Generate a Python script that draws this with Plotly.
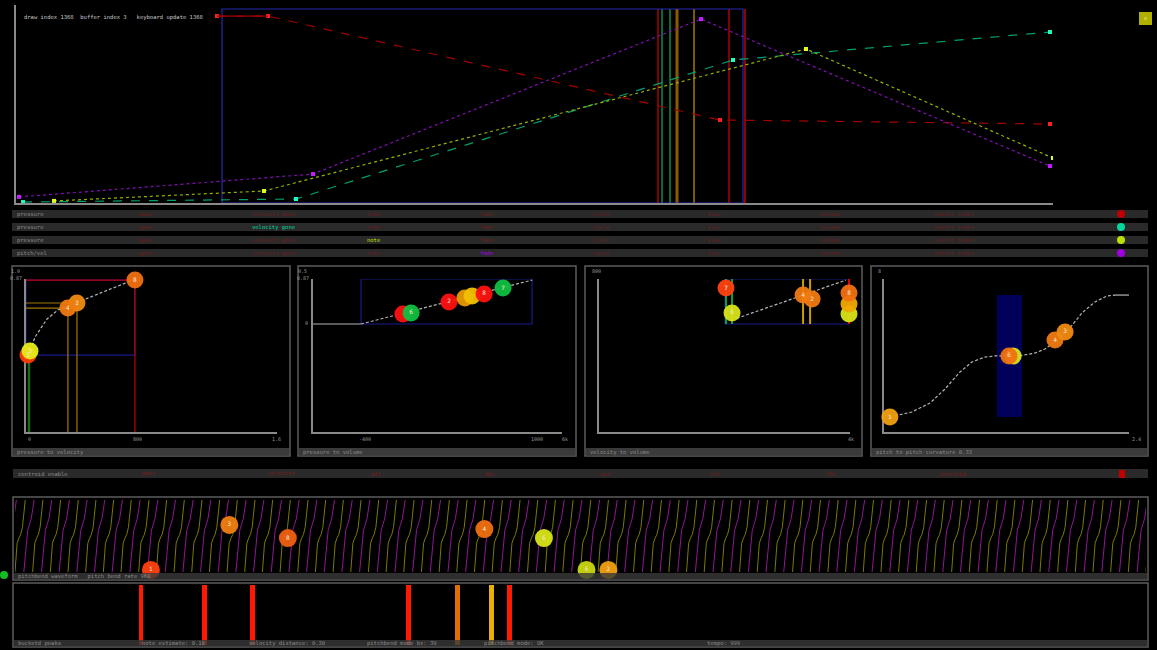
import plotly.graph_objects as go

W, H = 1157, 650

# ---------------- top timeline (x: frames, y: normalised level) ----------------
red_t = [201, 252, 704, 1034]
red_v = [0.982, 0.982, 0.436, 0.415]
teal_t = [7, 280, 717, 1034]
teal_v = [0.005, 0.021, 0.751, 0.898]
lime_t = [38, 248, 790, 1037]
lime_v = [0.011, 0.063, 0.809, 0.236]
purple_t = [3, 297, 685, 1034]
purple_v = [0.032, 0.152, 0.966, 0.194]
event_t = [642, 646, 654, 661, 678, 713, 729]
event_colors = ['#c80000', '#10a060', '#10a060', '#8a5a00', '#b89000', '#c80000', '#e00000']
window_t = [206, 727]
window_top = 1.019

# ---------------- mapping panels (normalised 0..1 on both axes) ----------------
# pressure to velocity
p1_curve_x = [0.008, 0.016, 0.036, 0.084, 0.127, 0.227, 0.335, 0.426]
p1_curve_y = [0.503, 0.529, 0.621, 0.739, 0.797, 0.863, 0.935, 0.993]
p1_box_x = [0.0, 0.434]
p1_box_y = [0.503, 0.993]
p1_guide_x = [0.012, 0.167, 0.203, 0.434]
p1_guide_y = [0.503, 0.810, 0.843, 0.993]
p1_guide_col = ['#1a6a1a', '#a07800', '#a07800', '#c00000']
p1_dot_x = [0.008, 0.016, 0.203, 0.167, 0.434]
p1_dot_y = [0.503, 0.529, 0.843, 0.810, 0.993]
p1_dot_lbl = ['1', '3', '2', '4', '8']
p1_dot_col = ['#ff3c00', '#e4ec18', '#f08a10', '#f07a10', '#f07010']

# pressure to volume
p2_box_x = [0.193, 0.880]
p2_box_y = [0.706, 1.0]
p2_flat_x = [0.0, 0.193]
p2_flat_y = [0.706, 0.706]
p2_curve_x = [0.193, 0.880]
p2_curve_y = [0.706, 0.993]
p2_dot_x = [0.361, 0.394, 0.546, 0.610, 0.639, 0.687, 0.763]
p2_dot_y = [0.771, 0.778, 0.850, 0.876, 0.889, 0.902, 0.941]
p2_dot_lbl = ['', '6', '2', '', '', '8', '7']
p2_dot_col = ['#ff1010', '#10c040', '#ff1010', '#e89a00', '#f0c000', '#ff1010', '#10c040']

# velocity to volume
p3_box_x = [0.502, 0.996]
p3_box_y = [0.706, 1.0]
p3_curve_x = [0.530, 0.984]
p3_curve_y = [0.732, 0.993]
p3_vline_x = [0.506, 0.530, 0.813, 0.841, 0.996]
p3_vline_col = ['#10a040', '#10a040', '#c8a000', '#c8a000', '#e00000']
p3_dot_x = [0.996, 0.996, 0.996, 0.530, 0.506, 0.849, 0.813]
p3_dot_y = [0.771, 0.837, 0.908, 0.778, 0.941, 0.869, 0.895]
p3_dot_lbl = ['', '', '8', '6', '7', '2', '4']
p3_dot_col = ['#d8e418', '#f0a800', '#f07010', '#d8e418', '#ff4010', '#f07a10', '#f07a10']

# pitch to pitch
p4_band_x = [0.461, 0.563]
p4_band_y = [0.098, 0.895]
p4_curve_x = [0.024, 0.114, 0.188, 0.249, 0.310, 0.359, 0.412, 0.453, 0.551,
              0.616, 0.657, 0.706, 0.755, 0.808, 0.861, 0.910, 0.943]
p4_curve_y = [0.098, 0.131, 0.190, 0.281, 0.392, 0.458, 0.490, 0.497, 0.497,
              0.516, 0.542, 0.601, 0.673, 0.778, 0.850, 0.889, 0.895]
p4_tail_x = [0.943, 1.0]
p4_tail_y = [0.895, 0.895]
p4_dot_x = [0.024, 0.527, 0.510, 0.698, 0.739]
p4_dot_y = [0.098, 0.497, 0.497, 0.601, 0.654]
p4_dot_lbl = ['1', '', '6', '4', '3']
p4_dot_col = ['#f0a010', '#d8e418', '#f07010', '#f07a10', '#f08a10']

# ---------------- pitchbend waveform (x: cycles) ----------------
n_cycles = 64
wave_u = [0.00, 0.12, 0.22, 0.32, 0.42, 0.58]
lime_wave = [0.00, 0.40, 0.47, 0.52, 0.62, 1.00]
purple_wave = [0.00, 0.30, 0.58, 0.66, 0.74, 1.00]
note_t = [7.69, 12.13, 15.44, 26.56, 29.93, 32.34, 33.58]
note_v = [0.028, 0.653, 0.472, 0.597, 0.472, 0.028, 0.028]
note_lbl = ['1', '3', '8', '4', '6', '6', '2']
note_col = ['#ff4010', '#f08010', '#f06010', '#f07010', '#d8e418', '#c8d810', '#f0a010']

# ---------------- onset peaks ----------------
peak_t = [7.13, 10.72, 13.42, 22.29, 25.04, 26.95, 27.96]
peak_col = ['#ff1a00', '#ff1a00', '#ff1a00', '#ff1a00', '#e07000', '#e8b000', '#ff1a00']

# ---------------- status rows ----------------
row_names = ['pressure', 'pressure', 'pressure', 'pitch/vel']
field_names = ['gain', 'velocity gone', 'note', 'fade', 'cycle', 'slew', 'volume', 'center index']
row_colors = ['#c00000', '#00d8a0', '#b8e000', '#a000e0']
row_highlight = [-1, 1, 2, 3]
centroid_fields = ['gain', 'velocity', 'att', 'dec', 'sus', 'rel', 'lfo', 'centroid']
bottom_labels = ['bucketd peaks', 'note estimate: 0.10', 'velocity distance: 0.30',
                 'pitchbend mode bx: 39', 'pitchbend mode: OK', 'tempo: 999']

FONT = 'DejaVu Sans Mono'


def X(p):
    return p / W


def Y(p):
    return 1 - p / H


fig = go.Figure()
shapes = []
ann = []


def text(x, y, s, color='#9a9a9a', size=6, anchor='left'):
    ann.append(dict(x=X(x), y=Y(y), xref='paper', yref='paper', text=s, showarrow=False,
                    xanchor=anchor, yanchor='middle', font=dict(family=FONT, size=size, color=color)))


def rect(x0, y0, x1, y1, fill=None, line=None, lw=1, layer='below', opacity=1, kind='rect'):
    shapes.append(dict(type=kind, xref='paper', yref='paper', x0=X(x0), x1=X(x1), y0=Y(y1), y1=Y(y0),
                       fillcolor=fill or 'rgba(0,0,0,0)', line=dict(color=line or 'rgba(0,0,0,0)', width=lw),
                       layer=layer, opacity=opacity))


def line_tr(x, y, color, width=1, dash='solid', xa='x', ya='y', opacity=1):
    fig.add_trace(go.Scatter(x=x, y=y, mode='lines', line=dict(color=color, width=width, dash=dash),
                             xaxis=xa, yaxis=ya, hoverinfo='skip', opacity=opacity))


def dots(x, y, lbl, col, xa, ya, size=17):
    fig.add_trace(go.Scatter(x=x, y=y, mode='markers+text', text=lbl, textposition='middle center',
                             textfont=dict(family=FONT, size=6, color='#ffe8d0'),
                             marker=dict(size=size, color=col, line=dict(width=0), opacity=0.95),
                             xaxis=xa, yaxis=ya, cliponaxis=False, hoverinfo='skip'))


# ---------------- top chart ----------------
for t in range(len(event_t)):
    line_tr([event_t[t], event_t[t]], [0, window_top], event_colors[t], width=3 if t == 3 else 1.3)
wx = [window_t[0], window_t[0], window_t[1], window_t[1], window_t[0]]
wy = [0, window_top, window_top, 0, 0]
line_tr(wx, wy, '#2828b0', width=1.2)

series = [(red_t, red_v, '#a00000', '#ff2020', 'dash'),
          (teal_t, teal_v, '#00a070', '#20ffc0', 'dash'),
          (lime_t, lime_v, '#98b000', '#e0ff20', 'dot'),
          (purple_t, purple_v, '#8010b0', '#c020ff', 'dot')]
for t, v, lc, mc, d in series:
    fig.add_trace(go.Scatter(x=t, y=v, mode='lines+markers', line=dict(color=lc, width=1.2, dash=d),
                             marker=dict(size=4, color=mc, symbol='square'), xaxis='x', yaxis='y',
                             hoverinfo='skip'))
# first red step is drawn solid
line_tr(red_t[:2], red_v[:2], '#a00000', 1.2)

text(22, 18, 'draw index 1368  buffer index 3   keyboard update 1368', '#c8c8c8', 5.5)
rect(1139, 12, 1152, 25, fill='#b0b000')
text(1145.5, 18.5, 'm', '#e0e0a0', 5, 'center')

# ---------------- status rows ----------------
row_y = [214, 227, 240, 253]
col_x = [137, 250, 365, 478, 591, 705, 818, 932]
for r in range(4):
    rect(12, row_y[r] - 4, 1148, row_y[r] + 4, fill='#2a2a2a')
    text(15, row_y[r], row_names[r], '#8a8a8a', 5.5)
    for c in range(len(field_names)):
        hl = c == row_highlight[r]
        text(col_x[c], row_y[r], field_names[c], row_colors[r] if hl else '#6a1e1e', 5.5)
    rect(1117, row_y[r] - 4, 1125, row_y[r] + 4, fill=row_colors[r], kind='circle', layer='above')

# ---------------- mapping panels ----------------
panels = [dict(frame=(12, 266, 290, 456), ax=(26, 277), label='pressure to velocity'),
          dict(frame=(298, 266, 576, 456), ax=(313, 562), label='pressure to volume'),
          dict(frame=(585, 266, 862, 456), ax=(599, 850), label='velocity to volume'),
          dict(frame=(871, 266, 1148, 456), ax=(884, 1129), label='pitch to pitch curvature 0.33')]
axis_base = dict(showgrid=False, zeroline=False, showticklabels=False, ticks='', fixedrange=True)
layout_axes = {}
for i, p in enumerate(panels):
    n = i + 2
    f = p['frame']
    rect(f[0], f[1], f[2], f[3], line='#5c5c5c', lw=1.5)
    rect(f[0] + 1, 448, f[2] - 1, 455.5, fill='#3a3a3a')
    text(f[0] + 3, 452, p['label'], '#8a8a8a', 5.5)
    layout_axes[f'xaxis{n}'] = dict(axis_base, domain=[X(p['ax'][0]), X(p['ax'][1])], range=[0, 1],
                                    anchor=f'y{n}', showline=True, linecolor='#8a8a8a', linewidth=1.5,
                                    layer='below traces')
    layout_axes[f'yaxis{n}'] = dict(axis_base, domain=[Y(432), Y(279)], range=[0, 1],
                                    anchor=f'x{n}', showline=True, linecolor='#8a8a8a', linewidth=1.5,
                                    layer='below traces')

CURVE = dict(color='#b4b4b4', width=1.2)

# panel 1
bx = [p1_box_x[0], p1_box_x[0], p1_box_x[1], p1_box_x[1], p1_box_x[0]]
by = [p1_box_y[0], p1_box_y[1], p1_box_y[1], p1_box_y[0], p1_box_y[0]]
line_tr(bx, by, '#1a1a90', 1.2, xa='x2', ya='y2')
for k in range(len(p1_guide_x)):
    gx, gy = p1_guide_x[k], p1_guide_y[k]
    w = 2.5 if k == 0 else 1.2
    line_tr([0, gx, gx], [gy, gy, 0], p1_guide_col[k], w, xa='x2', ya='y2')
line_tr(p1_curve_x, p1_curve_y, CURVE['color'], CURVE['width'], dash='3px,2px', xa='x2', ya='y2')
dots(p1_dot_x, p1_dot_y, p1_dot_lbl, p1_dot_col, 'x2', 'y2')
text(22, 271, '1.0', '#9a9a9a', 5, 'right')
text(24, 278, '0.87', '#9a9a9a', 5, 'right')
text(29, 439, '0', '#9a9a9a', 5, 'center')
text(137, 439, '800', '#9a9a9a', 5, 'center')
text(276, 439, '1.6', '#9a9a9a', 5, 'center')

# panel 2
bx = [p2_box_x[0], p2_box_x[0], p2_box_x[1], p2_box_x[1], p2_box_x[0]]
by = [p2_box_y[0], p2_box_y[1], p2_box_y[1], p2_box_y[0], p2_box_y[0]]
line_tr(bx, by, '#1a1a90', 1.2, xa='x3', ya='y3')
line_tr(p2_flat_x, p2_flat_y, CURVE['color'], CURVE['width'], xa='x3', ya='y3')
line_tr(p2_curve_x, p2_curve_y, CURVE['color'], CURVE['width'], dash='3px,2px', xa='x3', ya='y3')
dots(p2_dot_x, p2_dot_y, p2_dot_lbl, p2_dot_col, 'x3', 'y3')
text(309, 271, '0.5', '#9a9a9a', 5, 'right')
text(311, 278, '0.87', '#9a9a9a', 5, 'right')
text(310, 323, '0', '#9a9a9a', 5, 'right')
text(365, 439, '-400', '#9a9a9a', 5, 'center')
text(537, 439, '1000', '#9a9a9a', 5, 'center')
text(565, 439, '6k', '#9a9a9a', 5, 'center')

# panel 3
bx = [p3_box_x[0], p3_box_x[0], p3_box_x[1], p3_box_x[1], p3_box_x[0]]
by = [p3_box_y[0], p3_box_y[1], p3_box_y[1], p3_box_y[0], p3_box_y[0]]
line_tr(bx, by, '#1a1a90', 1.2, xa='x4', ya='y4')
for k in range(len(p3_vline_x)):
    line_tr([p3_vline_x[k]] * 2, p3_box_y, p3_vline_col[k], 2, xa='x4', ya='y4')
line_tr(p3_curve_x, p3_curve_y, CURVE['color'], CURVE['width'], dash='3px,2px', xa='x4', ya='y4')
dots(p3_dot_x, p3_dot_y, p3_dot_lbl, p3_dot_col, 'x4', 'y4')
text(596, 271, '800', '#9a9a9a', 5, 'center')
text(851, 439, '4k', '#9a9a9a', 5, 'center')

# panel 4
fig.add_trace(go.Scatter(x=[p4_band_x[0], p4_band_x[0], p4_band_x[1], p4_band_x[1]],
                         y=[p4_band_y[0], p4_band_y[1], p4_band_y[1], p4_band_y[0]],
                         fill='toself', fillcolor='#00005a', mode='lines', line=dict(width=0),
                         xaxis='x5', yaxis='y5', hoverinfo='skip'))
line_tr(p4_curve_x, p4_curve_y, CURVE['color'], CURVE['width'], dash='3px,2px', xa='x5', ya='y5')
line_tr(p4_tail_x, p4_tail_y, CURVE['color'], CURVE['width'], xa='x5', ya='y5')
dots(p4_dot_x, p4_dot_y, p4_dot_lbl, p4_dot_col, 'x5', 'y5')
text(879, 271, '8', '#9a9a9a', 5, 'center')
text(1136, 439, '2.4', '#9a9a9a', 5, 'center')

# ---------------- centroid status row ----------------
rect(13, 469, 1148, 478, fill='#2a2a2a')
text(16, 473.5, 'centroid enable', '#8a8a8a', 5.5)
for c, cx in enumerate([140, 266, 369, 483, 598, 708, 823, 937]):
    text(cx, 473.5, centroid_fields[c], '#7a1c1c', 5.5)
rect(1119, 470, 1125, 478, fill='#c00000')

# ---------------- waveform ----------------
layout_axes['xaxis6'] = dict(axis_base, domain=[X(15), X(1146)], range=[0, n_cycles], anchor='y6')
layout_axes['yaxis6'] = dict(axis_base, domain=[Y(572), Y(500)], range=[0, 1], anchor='x6')
for shape_v, phase, col in [(lime_wave, 0.0, '#7a7a00'), (purple_wave, 0.5, '#901890')]:
    wx, wy = [], []
    for k in range(-1, n_cycles + 1):
        for u, v in zip(wave_u, shape_v):
            wx.append(k + phase + u)
            wy.append(v)
        wx.append(None)
        wy.append(None)
    line_tr(wx, wy, col, 1, xa='x6', ya='y6')
dots(note_t, note_v, note_lbl, note_col, 'x6', 'y6', size=18)
rect(13, 497, 1148, 580, line='#5c5c5c', lw=1.5)
rect(14, 573, 1147, 579.5, fill='#3a3a3a', layer='above', opacity=0.8)
text(16, 576, 'pitchbend waveform   pitch bend rate 960', '#8a8a8a', 5.5)
rect(0, 571, 8, 579, fill='#10c020', kind='circle', layer='above')

# ---------------- onset peaks ----------------
layout_axes['xaxis7'] = dict(axis_base, domain=[X(15), X(1146)], range=[0, n_cycles], anchor='y7')
layout_axes['yaxis7'] = dict(axis_base, domain=[Y(645), Y(585)], range=[0, 1], anchor='x7')
fig.add_trace(go.Bar(x=peak_t, y=[1] * len(peak_t), width=0.28, marker=dict(color=peak_col, line=dict(width=0)),
                     xaxis='x7', yaxis='y7', hoverinfo='skip'))
rect(13, 583, 1148, 647, line='#5c5c5c', lw=1.5)
rect(14, 640, 1147, 646.5, fill='#3a3a3a', layer='above', opacity=0.8)
for s, lx in zip(bottom_labels, [16, 140, 247, 365, 482, 705]):
    text(lx, 643, s, '#8a8a8a', 5.5)

fig.update_layout(
    width=W, height=H, margin=dict(l=0, r=0, t=0, b=0),
    paper_bgcolor='black', plot_bgcolor='black', showlegend=False,
    xaxis=dict(axis_base, domain=[X(16), X(1053)], range=[0, 1037], showline=True,
               linecolor='#8a8a8a', linewidth=2, layer='below traces'),
    yaxis=dict(axis_base, domain=[Y(203), Y(5)], range=[0, 1.04], showline=True,
               linecolor='#8a8a8a', linewidth=2, layer='below traces'),
    shapes=shapes, annotations=ann, bargap=0,
    **layout_axes
)

fig.write_html("out.html", config={'displayModeBar': False},
               post_script="document.body.style.margin='0';document.body.style.background='black';")
